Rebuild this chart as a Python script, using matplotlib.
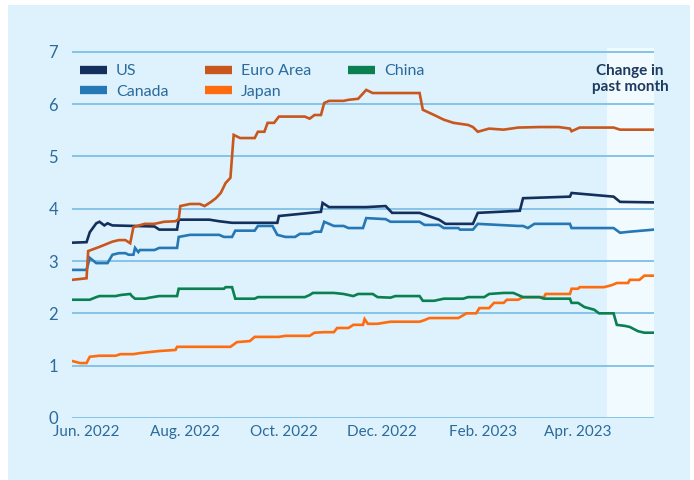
import matplotlib
matplotlib.use("Agg")
import matplotlib.pyplot as plt
from matplotlib.patches import Rectangle
from matplotlib.lines import Line2D
import pandas as pd

# 10-year government bond yields (percent)
us_dates = ["2022-05-23", "2022-06-01", "2022-06-03", "2022-06-07", "2022-06-09", "2022-06-12",
            "2022-06-14", "2022-06-17", "2022-07-13", "2022-07-16", "2022-07-27", "2022-07-28",
            "2022-08-16", "2022-08-22", "2022-08-30", "2022-09-27", "2022-09-28", "2022-10-24",
            "2022-10-25", "2022-10-29", "2022-11-21", "2022-12-03", "2022-12-07", "2022-12-24",
            "2023-01-05", "2023-01-09", "2023-01-26", "2023-01-29", "2023-02-24", "2023-02-26",
            "2023-03-27", "2023-03-28", "2023-04-23", "2023-04-27", "2023-05-18"]
us_vals = [3.35, 3.36, 3.55, 3.72, 3.75, 3.68, 3.72, 3.68, 3.66, 3.60, 3.60, 3.79,
           3.79, 3.76, 3.73, 3.73, 3.86, 3.94, 4.11, 4.03, 4.03, 4.05, 3.92, 3.92,
           3.79, 3.71, 3.71, 3.92, 3.96, 4.20, 4.23, 4.30, 4.23, 4.13, 4.12]

ca_dates = ["2022-05-23", "2022-06-01", "2022-06-03", "2022-06-07", "2022-06-14", "2022-06-17",
            "2022-06-21", "2022-06-25", "2022-06-27", "2022-06-30", "2022-07-01", "2022-07-03",
            "2022-07-04", "2022-07-13", "2022-07-16", "2022-07-27", "2022-07-28", "2022-08-04",
            "2022-08-22", "2022-08-25", "2022-08-30", "2022-09-01", "2022-09-13", "2022-09-15",
            "2022-09-24", "2022-09-27", "2022-10-02", "2022-10-08", "2022-10-11", "2022-10-17",
            "2022-10-20", "2022-10-24", "2022-10-26", "2022-11-01", "2022-11-07", "2022-11-10",
            "2022-11-19", "2022-11-21", "2022-12-03", "2022-12-06", "2022-12-24", "2022-12-27",
            "2023-01-05", "2023-01-08", "2023-01-17", "2023-01-18", "2023-01-26", "2023-01-29",
            "2023-02-23", "2023-02-26", "2023-03-01", "2023-03-05", "2023-03-27", "2023-03-28",
            "2023-04-23", "2023-04-27", "2023-05-03", "2023-05-18"]
ca_vals = [2.83, 2.83, 3.06, 2.96, 2.96, 3.12, 3.15, 3.15, 3.12, 3.12, 3.25, 3.17,
           3.21, 3.21, 3.25, 3.25, 3.46, 3.50, 3.50, 3.46, 3.46, 3.58, 3.58, 3.67,
           3.67, 3.50, 3.46, 3.46, 3.52, 3.52, 3.56, 3.56, 3.75, 3.67, 3.67, 3.63,
           3.63, 3.82, 3.80, 3.75, 3.75, 3.69, 3.69, 3.63, 3.63, 3.60, 3.60, 3.71,
           3.67, 3.67, 3.63, 3.71, 3.71, 3.63, 3.63, 3.54, 3.56, 3.60]

eu_dates = ["2022-05-23", "2022-06-01", "2022-06-02", "2022-06-09", "2022-06-17", "2022-06-21",
            "2022-06-25", "2022-06-28", "2022-06-30", "2022-07-07", "2022-07-13", "2022-07-19",
            "2022-07-26", "2022-07-28", "2022-07-29", "2022-08-04", "2022-08-10", "2022-08-13",
            "2022-08-17", "2022-08-20", "2022-08-23", "2022-08-26", "2022-08-29", "2022-08-31",
            "2022-09-04", "2022-09-13", "2022-09-15", "2022-09-19", "2022-09-21", "2022-09-25",
            "2022-09-28", "2022-10-14", "2022-10-17", "2022-10-20", "2022-10-24", "2022-10-26",
            "2022-10-29", "2022-11-07", "2022-11-10", "2022-11-16", "2022-11-21", "2022-11-25",
            "2022-12-24", "2022-12-26", "2023-01-02", "2023-01-08", "2023-01-14", "2023-01-23",
            "2023-01-26", "2023-01-29", "2023-02-05", "2023-02-14", "2023-02-23", "2023-03-08",
            "2023-03-20", "2023-03-27", "2023-03-28", "2023-04-02", "2023-04-23", "2023-04-27",
            "2023-05-18"]
eu_vals = [2.64, 2.67, 3.19, 3.27, 3.37, 3.40, 3.40, 3.34, 3.65, 3.71, 3.71, 3.75,
           3.76, 3.80, 4.05, 4.09, 4.09, 4.05, 4.13, 4.20, 4.30, 4.49, 4.59, 5.41,
           5.35, 5.35, 5.47, 5.47, 5.64, 5.64, 5.76, 5.76, 5.72, 5.79, 5.79, 6.02,
           6.06, 6.06, 6.08, 6.10, 6.27, 6.21, 6.21, 5.89, 5.79, 5.70, 5.64, 5.60,
           5.56, 5.47, 5.53, 5.51, 5.55, 5.56, 5.56, 5.53, 5.48, 5.55, 5.55, 5.51,
           5.51]

jp_dates = ["2022-05-23", "2022-05-28", "2022-06-01", "2022-06-03", "2022-06-09", "2022-06-19",
            "2022-06-22", "2022-06-30", "2022-07-04", "2022-07-10", "2022-07-16", "2022-07-26",
            "2022-07-27", "2022-08-29", "2022-09-02", "2022-09-10", "2022-09-13", "2022-09-28",
            "2022-10-02", "2022-10-17", "2022-10-20", "2022-10-26", "2022-11-01", "2022-11-03",
            "2022-11-10", "2022-11-13", "2022-11-19", "2022-11-20", "2022-11-22", "2022-11-28",
            "2022-12-06", "2022-12-24", "2022-12-27", "2022-12-30", "2023-01-17", "2023-01-22",
            "2023-01-28", "2023-01-30", "2023-02-05", "2023-02-08", "2023-02-14", "2023-02-16",
            "2023-02-23", "2023-02-26", "2023-03-11", "2023-03-12", "2023-03-27", "2023-03-28",
            "2023-04-01", "2023-04-02", "2023-04-17", "2023-04-22", "2023-04-25", "2023-05-02",
            "2023-05-03", "2023-05-09", "2023-05-12", "2023-05-18"]
jp_vals = [1.09, 1.05, 1.05, 1.17, 1.19, 1.19, 1.22, 1.22, 1.24, 1.26, 1.28, 1.30,
           1.36, 1.36, 1.45, 1.47, 1.55, 1.55, 1.57, 1.57, 1.63, 1.64, 1.64, 1.72,
           1.72, 1.78, 1.78, 1.89, 1.80, 1.80, 1.84, 1.84, 1.87, 1.91, 1.91, 2.00,
           2.00, 2.10, 2.10, 2.20, 2.20, 2.26, 2.26, 2.31, 2.31, 2.37, 2.37, 2.47,
           2.47, 2.50, 2.50, 2.54, 2.58, 2.58, 2.64, 2.64, 2.72, 2.72]

cn_dates = ["2022-05-23", "2022-06-03", "2022-06-07", "2022-06-09", "2022-06-19", "2022-06-22",
            "2022-06-28", "2022-06-29", "2022-07-01", "2022-07-07", "2022-07-10", "2022-07-16",
            "2022-07-27", "2022-07-28", "2022-08-25", "2022-08-26", "2022-08-30", "2022-09-01",
            "2022-09-13", "2022-09-15", "2022-10-14", "2022-10-17", "2022-10-19", "2022-11-01",
            "2022-11-07", "2022-11-10", "2022-11-13", "2022-11-16", "2022-11-25", "2022-11-28",
            "2022-12-06", "2022-12-09", "2022-12-24", "2022-12-26", "2023-01-02", "2023-01-08",
            "2023-01-20", "2023-01-23", "2023-02-02", "2023-02-05", "2023-02-14", "2023-02-20",
            "2023-02-23", "2023-02-26", "2023-03-08", "2023-03-11", "2023-03-27", "2023-03-28",
            "2023-04-01", "2023-04-05", "2023-04-11", "2023-04-14", "2023-04-23", "2023-04-25",
            "2023-04-30", "2023-05-03", "2023-05-08", "2023-05-12", "2023-05-18"]
cn_vals = [2.26, 2.26, 2.31, 2.33, 2.33, 2.35, 2.37, 2.33, 2.28, 2.28, 2.30, 2.33,
           2.33, 2.47, 2.47, 2.50, 2.50, 2.28, 2.28, 2.31, 2.31, 2.35, 2.39, 2.39,
           2.37, 2.35, 2.33, 2.37, 2.37, 2.31, 2.30, 2.33, 2.33, 2.24, 2.24, 2.28,
           2.28, 2.31, 2.31, 2.37, 2.39, 2.39, 2.35, 2.31, 2.31, 2.28, 2.28, 2.20,
           2.20, 2.12, 2.07, 2.00, 2.00, 1.78, 1.76, 1.74, 1.66, 1.63, 1.63]

series = [
    ("US", us_dates, us_vals, "#142F5C"),
    ("Canada", ca_dates, ca_vals, "#2677B5"),
    ("Euro Area", eu_dates, eu_vals, "#C9561D"),
    ("Japan", jp_dates, jp_vals, "#FF6B0F"),
    ("China", cn_dates, cn_vals, "#0A8050"),
]

x_ticks = ["2022-06-01", "2022-08-01", "2022-10-01", "2022-12-01", "2023-02-01", "2023-04-01"]
x_labels = ["Jun. 2022", "Aug. 2022", "Oct. 2022", "Dec. 2022", "Feb. 2023", "Apr. 2023"]
y_ticks = [0, 1, 2, 3, 4, 5, 6, 7]
shade_start = "2023-04-19"
x_start, x_end = "2022-05-23", "2023-05-18"

panel = "#DDF2FC"
grid_col = "#86C2E8"
text_col = "#2B6A9C"

plt.rcParams["font.family"] = ["Lato", "DejaVu Sans"]

fig = plt.figure(figsize=(6.94, 4.80), dpi=100)
fig.patch.set_facecolor("white")
fig.patches.append(Rectangle((8 / 694, 0), 682 / 694, 475 / 480, transform=fig.transFigure,
                             facecolor=panel, edgecolor="none", zorder=-10))

ax = fig.add_axes([72 / 694, 1 - 418 / 480, 582 / 694, (418 - 47.5) / 480])
ax.set_facecolor("none")

# lighter band for the last month
ax.axvspan(pd.Timestamp(shade_start), pd.Timestamp(x_end), color="#F1FAFE", zorder=0, lw=0)

for y in y_ticks:
    ax.axhline(y, color=grid_col, lw=1.4, zorder=1)

for name, d, v, c in series:
    ax.plot(pd.to_datetime(d), v, color=c, lw=1.9, zorder=3, solid_joinstyle="miter")

ax.set_xlim(pd.Timestamp(x_start), pd.Timestamp(x_end))
ax.set_ylim(0, 7.08)
ax.set_yticks(y_ticks)
ax.set_yticklabels([str(y) for y in y_ticks])
ax.set_xticks(pd.to_datetime(x_ticks))
ax.set_xticklabels(x_labels)
ax.tick_params(axis="y", length=0, pad=10, labelsize=12, labelcolor=text_col)
ax.tick_params(axis="x", length=0, pad=5, labelsize=11, labelcolor=text_col)
for s in ax.spines.values():
    s.set_visible(False)

handles = [Line2D([], [], color=c, lw=6, solid_capstyle="butt") for _, _, _, c in series]
labels = [n for n, _, _, _ in series]
ax.legend(handles, labels, ncol=3, loc="upper left", bbox_to_anchor=(0.0, 0.977),
          frameon=False, fontsize=11.5, labelcolor=text_col, handlelength=1.7,
          handletextpad=0.55, columnspacing=2.3, labelspacing=0.4, borderaxespad=0.3,
          borderpad=0.2)

fig.text(630 / 694, 1 - 79 / 480, "Change in\npast month", ha="center", va="center",
         fontsize=11, fontweight="bold", color="#1E3A5F", linespacing=1.15)

fig.savefig("out.png", dpi=100, facecolor=fig.get_facecolor())
